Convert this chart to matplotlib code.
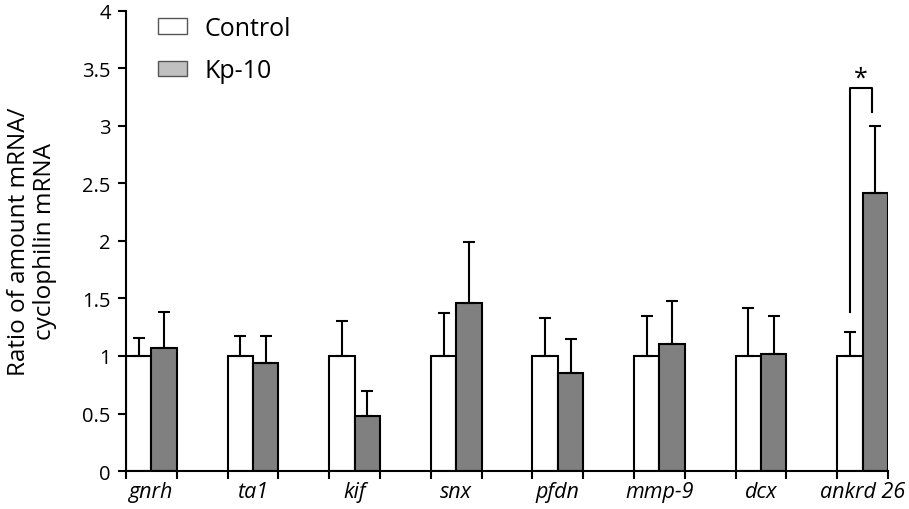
import numpy as np
import matplotlib.pyplot as plt
from matplotlib.patches import Patch

plt.rcParams['font.family'] = ['Open Sans', 'DejaVu Sans']

# --- data ---
genes = ['gnrh', 'ta1', 'kif', 'snx', 'pfdn', 'mmp-9', 'dcx', 'ankrd 26']
control = [1.0, 1.0, 1.0, 1.0, 1.0, 1.0, 1.0, 1.0]
control_err = [0.16, 0.17, 0.30, 0.37, 0.33, 0.35, 0.42, 0.21]
kp10 = [1.07, 0.94, 0.48, 1.46, 0.85, 1.10, 1.02, 2.42]
kp10_err = [0.31, 0.23, 0.22, 0.53, 0.30, 0.38, 0.33, 0.58]
yticks = [0, 0.5, 1, 1.5, 2, 2.5, 3, 3.5, 4]
ytick_labels = ['0', '0.5', '1', '1.5', '2', '2.5', '3', '3.5', '4']

x = np.arange(len(genes))
w = 0.25

fig = plt.figure(figsize=(9.09, 5.10), dpi=100)
ax = fig.add_axes([0.1386, 0.0745, 0.8384, 0.902])

err_kw = dict(ecolor='black', elinewidth=1.5, capsize=4.5, capthick=1.5)
ax.bar(x - w/2, control, w, color='white', edgecolor='black', linewidth=1.5,
       yerr=[np.zeros(len(x)), control_err], error_kw=err_kw, zorder=2)
ax.bar(x + w/2, kp10, w, color='#808080', edgecolor='black', linewidth=1.5,
       yerr=[np.zeros(len(x)), kp10_err], error_kw=err_kw, zorder=2)

# significance bracket for ankrd 26
i = len(genes) - 1
ax.plot([i - w/2, i - w/2, i + w/2 - 0.03, i + w/2 - 0.03], [1.38, 3.33, 3.33, 3.12],
        color='black', lw=1.5)
ax.text(i - 0.02, 3.31, '*', ha='center', va='bottom', fontsize=18)

ax.set_xlim(-w, len(genes) - 1 + w)
ax.set_ylim(0, 4)
ax.set_yticks(yticks)
ax.set_yticklabels(ytick_labels, fontsize=14.5)

edges = np.sort(np.concatenate([x - w, x + w]))
ax.set_xticks(edges)
ax.set_xticklabels([])
ax.set_xticks(x, minor=True)
ax.set_xticklabels(genes, minor=True, fontsize=15.5, style='italic')
ax.tick_params(axis='x', which='minor', length=0, pad=7)
ax.tick_params(axis='both', which='major', direction='out', length=6, width=1.5)
ax.tick_params(axis='y', pad=5)

for s in ['top', 'right']:
    ax.spines[s].set_visible(False)
for s in ['left', 'bottom']:
    ax.spines[s].set_linewidth(1.5)

ax.set_ylabel('Ratio of amount mRNA/\ncyclophilin mRNA', fontsize=17.5,
              labelpad=18, linespacing=1.15)

handles = [Patch(facecolor='white', edgecolor='#555555', label='Control'),
           Patch(facecolor='#c0c0c0', edgecolor='#555555', label='Kp-10')]
ax.legend(handles=handles, loc='upper left', bbox_to_anchor=(0.174, 0.967),
          bbox_transform=fig.transFigure, borderaxespad=0, borderpad=0,
          frameon=False, fontsize=18, handlelength=1.16, handleheight=0.56,
          handletextpad=0.68, labelspacing=0.7)

fig.savefig('out.png', dpi=100)
